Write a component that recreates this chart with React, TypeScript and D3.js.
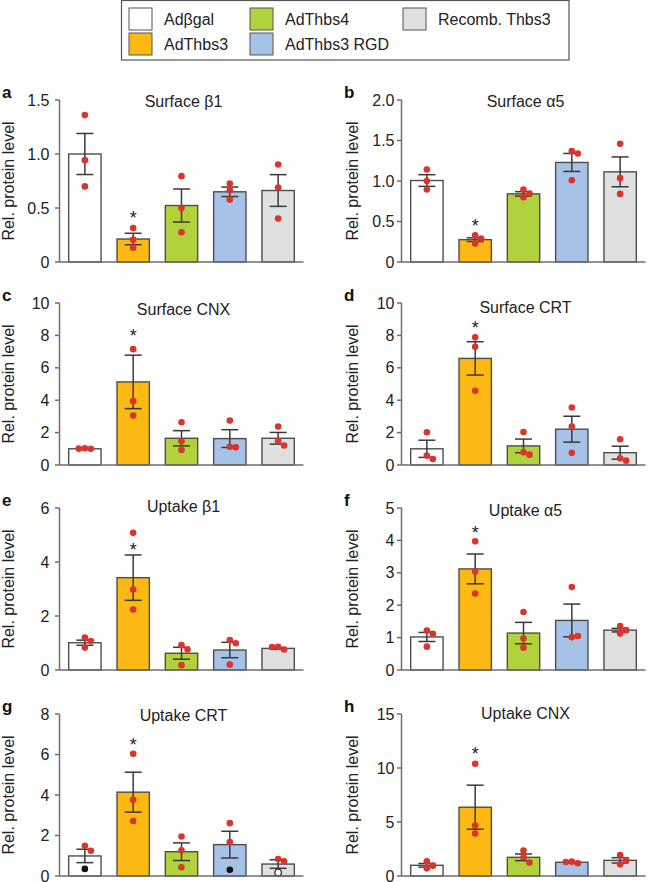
import React, { useEffect, useRef } from 'react';
import * as d3 from 'd3';

// groups (x categories + legend)
const groups = ['Adβgal', 'AdThbs3', 'AdThbs4', 'AdThbs3 RGD', 'Recomb. Thbs3'];

// a: Surface β1
const surfB1Mean = [1.0, 0.213, 0.523, 0.65, 0.662];
const surfB1Sem = [0.19, 0.053, 0.153, 0.044, 0.147];
const surfB1Dots = [[1.36, 0.943, 0.7], [0.315, 0.207, 0.133], [0.795, 0.5, 0.275], [0.727, 0.665, 0.578], [0.903, 0.69, 0.402]];
const surfB1Ticks = [0, 0.5, 1.0, 1.5];

// b: Surface α5
const surfA5Mean = [1.006, 0.276, 0.841, 1.229, 1.113];
const surfA5Sem = [0.072, 0.023, 0.027, 0.111, 0.184];
const surfA5Dots = [[1.142, 1.0, 0.895], [0.33, 0.29, 0.227], [0.895, 0.845, 0.8], [1.369, 1.34, 1.01], [1.46, 1.035, 0.841]];
const surfA5Ticks = [0, 0.5, 1.0, 1.5, 2.0];

// c: Surface CNX
const surfCnxMean = [1.0, 5.13, 1.65, 1.63, 1.65];
const surfCnxSem = [0.02, 1.65, 0.47, 0.55, 0.36];
const surfCnxDots = [[1.03, 1.0, 1.01], [7.15, 3.94, 3.05], [2.64, 1.46, 0.93], [2.74, 1.13, 1.09], [2.37, 1.48, 1.2]];
const surfCnxTicks = [0, 2, 4, 6, 8, 10];

// d: Surface CRT
const surfCrtMean = [1.0, 6.58, 1.18, 2.21, 0.76];
const surfCrtSem = [0.53, 1.03, 0.42, 0.8, 0.4];
const surfCrtDots = [[2.02, 0.58, 0.37], [7.88, 7.3, 4.58], [2.04, 0.78, 0.64], [3.55, 2.37, 0.76], [1.59, 0.41, 0.27]];
const surfCrtTicks = [0, 2, 4, 6, 8, 10];

// e: Uptake β1
const upB1Mean = [1.01, 3.42, 0.62, 0.74, 0.8];
const upB1Sem = [0.095, 0.84, 0.22, 0.285, 0.03];
const upB1Dots = [[1.2, 1.07, 0.83], [5.08, 2.98, 2.24], [0.92, 0.76, 0.18], [1.11, 0.99, 0.2], [0.86, 0.76, 0.85]];
const upB1Ticks = [0, 2, 4, 6];

// f: Uptake α5
const upA5Mean = [1.02, 3.12, 1.14, 1.53, 1.23];
const upA5Sem = [0.14, 0.46, 0.33, 0.505, 0.055];
const upA5Dots = [[1.22, 1.12, 0.72], [3.97, 3.04, 2.36], [1.79, 0.97, 0.69], [2.56, 1.01, 1.05], [1.36, 1.23, 1.13]];
const upA5Ticks = [0, 1, 2, 3, 4, 5];

// g: Uptake CRT
const upCrtMean = [0.99, 4.14, 1.2, 1.55, 0.59];
const upCrtSem = [0.33, 0.985, 0.435, 0.66, 0.21];
const upCrtDots = [[1.49, 1.25, 0.35], [6.04, 3.76, 2.71], [1.95, 1.27, 0.43], [2.61, 1.68, 0.31], [0.84, 0.73, 0.17]];
const upCrtKinds = [['red', 'red', 'black'], ['red', 'red', 'red'], ['red', 'red', 'red'], ['red', 'red', 'black'], ['red', 'red', 'open']];
const upCrtTicks = [0, 2, 4, 6, 8];

// h: Uptake CNX
const upCnxMean = [0.99, 6.37, 1.73, 1.27, 1.45];
const upCnxSem = [0.17, 2.04, 0.31, 0.06, 0.245];
const upCnxDots = [[1.36, 0.96, 0.71], [10.39, 4.67, 3.93], [2.35, 1.73, 1.24], [1.33, 1.18, 1.3], [1.95, 1.45, 1.08]];
const upCnxTicks = [0, 5, 10, 15];

// asterisk level (value where the * sits above AdThbs3)
const starLevels = [0.44, 0.495, 8.2, 8.72, 4.6, 4.35, 6.68, 11.7];

const letters = ['a', 'b', 'c', 'd', 'e', 'f', 'g', 'h'];
const titles = ['Surface β1', 'Surface α5', 'Surface CNX', 'Surface CRT', 'Uptake β1', 'Uptake α5', 'Uptake CRT', 'Uptake CNX'];

const fills = ['#ffffff', '#fdb913', '#b1d23c', '#a6c2e6', '#e0e0e0'];
const FONT = '"Liberation Sans", Arial, Helvetica, sans-serif';

const panels = [
  { means: surfB1Mean, sems: surfB1Sem, dots: surfB1Dots, ticks: surfB1Ticks },
  { means: surfA5Mean, sems: surfA5Sem, dots: surfA5Dots, ticks: surfA5Ticks },
  { means: surfCnxMean, sems: surfCnxSem, dots: surfCnxDots, ticks: surfCnxTicks },
  { means: surfCrtMean, sems: surfCrtSem, dots: surfCrtDots, ticks: surfCrtTicks },
  { means: upB1Mean, sems: upB1Sem, dots: upB1Dots, ticks: upB1Ticks },
  { means: upA5Mean, sems: upA5Sem, dots: upA5Dots, ticks: upA5Ticks },
  { means: upCrtMean, sems: upCrtSem, dots: upCrtDots, ticks: upCrtTicks, kinds: upCrtKinds },
  { means: upCnxMean, sems: upCnxSem, dots: upCnxDots, ticks: upCnxTicks },
];

// layout
const colX = [59.5, 401.5];
const rowTop = [100, 303, 508, 714];
const plotW = 244;
const plotH = 162;
const titleDy = [7, 7, 12, 10, 4, 8, 7, 5];

const Figure: React.FC = () => {
  const svgRef = useRef<SVGSVGElement>(null);

  useEffect(() => {
    if (!svgRef.current) return;
    const root = d3.select(svgRef.current);
    root.selectAll('*').remove();
    root.attr('width', 648).attr('height', 882).style('font-family', FONT);

    // legend
    const leg = root.append('g');
    leg.append('rect')
      .attr('x', 121.5).attr('y', 0.5).attr('width', 447.5).attr('height', 59.5)
      .attr('fill', 'none').attr('stroke', '#555').attr('stroke-width', 1.2);
    const legCols = [129, 250, 403];
    const legRows = [8, 33];
    const legOrder = [[0, 0], [1, 0], [0, 1], [1, 1], [0, 2]]; // [row, col] for each group
    groups.forEach((g, i) => {
      const [r, c] = legOrder[i];
      leg.append('rect')
        .attr('x', legCols[c]).attr('y', legRows[r]).attr('width', 23).attr('height', 22)
        .attr('fill', fills[i]).attr('stroke', '#555').attr('stroke-width', 1);
      leg.append('text')
        .attr('x', legCols[c] + 35).attr('y', legRows[r] + 17)
        .attr('font-size', 16).attr('fill', '#222').text(g);
    });

    panels.forEach((p, i) => {
      const col = i % 2;
      const row = Math.floor(i / 2);
      const x0 = colX[col];
      const top = rowTop[row];
      const g = root.append('g');

      const maxV = p.ticks[p.ticks.length - 1];
      const y = d3.scaleLinear().domain([0, maxV]).range([top + plotH, top]);
      const x = d3.scaleBand<number>().domain(d3.range(5)).range([x0, x0 + plotW])
        .paddingInner(0.33).paddingOuter(0.19);
      const bw = x.bandwidth();
      const decimals = maxV <= 2;
      const fmt = (v: number) => (v === 0 ? '0' : decimals ? v.toFixed(1) : String(v));

      // bars
      g.selectAll('rect.bar').data(p.means).enter().append('rect')
        .attr('x', (_, k) => x(k)!)
        .attr('y', d => y(d))
        .attr('width', bw)
        .attr('height', d => y(0) - y(d))
        .attr('fill', (_, k) => fills[k])
        .attr('stroke', '#4d4d4d')
        .attr('stroke-width', 1.4);

      // error bars
      const cap = 17;
      p.means.forEach((m, k) => {
        const cx = x(k)! + bw / 2;
        const hi = y(m + p.sems[k]);
        const lo = y(m - p.sems[k]);
        const eg = g.append('g').attr('stroke', '#3a3a3a').attr('stroke-width', 1.5);
        eg.append('line').attr('x1', cx).attr('x2', cx).attr('y1', hi).attr('y2', lo);
        eg.append('line').attr('x1', cx - cap / 2).attr('x2', cx + cap / 2).attr('y1', hi).attr('y2', hi);
        eg.append('line').attr('x1', cx - cap / 2).attr('x2', cx + cap / 2).attr('y1', lo).attr('y2', lo);
      });

      // dots, spread sideways when they overlap
      const r = 3.3;
      const step = 6;
      p.dots.forEach((vals, k) => {
        const cx = x(k)! + bw / 2;
        const placed: { x: number; y: number }[] = [];
        vals.forEach((v, j) => {
          const cy = y(v);
          const offs = [0, step, -step, 2 * step, -2 * step];
          let dx = 0;
          for (const o of offs) {
            if (placed.every(q => Math.hypot(q.x - o, q.y - cy) >= 5.6)) { dx = o; break; }
          }
          placed.push({ x: dx, y: cy });
          const kind = p.kinds ? p.kinds[k][j] : 'red';
          g.append('circle')
            .attr('cx', cx + dx).attr('cy', cy).attr('r', r)
            .attr('fill', kind === 'red' ? '#d9352a' : kind === 'black' ? '#111' : '#fff')
            .attr('stroke', kind === 'open' ? '#222' : 'none')
            .attr('stroke-width', kind === 'open' ? 1.2 : 0);
        });
      });

      // asterisk
      g.append('text')
        .attr('x', x(1)! + bw / 2)
        .attr('y', y(starLevels[i]) + 10)
        .attr('text-anchor', 'middle')
        .attr('font-size', 18)
        .attr('fill', '#222')
        .text('*');

      // axes
      const axisColor = '#6e6e6e';
      g.append('line')
        .attr('x1', x0).attr('x2', x0).attr('y1', y(maxV)).attr('y2', y(0))
        .attr('stroke', axisColor).attr('stroke-width', 1.5);
      g.append('line')
        .attr('x1', x0).attr('x2', x0 + plotW).attr('y1', y(0)).attr('y2', y(0))
        .attr('stroke', axisColor).attr('stroke-width', 1.5);
      const labelEnd = col === 0 ? x0 - 10 : x0 - 7;
      p.ticks.forEach(t => {
        g.append('line')
          .attr('x1', x0 - 4.5).attr('x2', x0).attr('y1', y(t)).attr('y2', y(t))
          .attr('stroke', axisColor).attr('stroke-width', 1.5);
        g.append('text')
          .attr('x', labelEnd).attr('y', y(t) + 5.6)
          .attr('text-anchor', 'end').attr('font-size', 16).attr('fill', '#222')
          .text(fmt(t));
      });

      // y label
      const lx = col === 0 ? 13.5 : 358;
      g.append('text')
        .attr('transform', `translate(${lx},${top + plotH / 2}) rotate(-90)`)
        .attr('text-anchor', 'middle').attr('font-size', 16).attr('fill', '#222')
        .text('Rel. protein level');

      // title
      g.append('text')
        .attr('x', x0 + plotW / 2 + 2).attr('y', top + titleDy[i])
        .attr('text-anchor', 'middle').attr('font-size', 16).attr('fill', '#222')
        .text(titles[i]);

      // panel letter
      g.append('text')
        .attr('x', col === 0 ? 2 : 344).attr('y', top - 2.5)
        .attr('font-size', 17).attr('font-weight', 'bold').attr('fill', '#111')
        .text(letters[i]);
    });
  }, []);

  return <svg ref={svgRef} style={{ position: 'absolute', left: 0, top: 0, background: '#fff' }} />;
};

export default function App() {
  return <Figure />;
}
